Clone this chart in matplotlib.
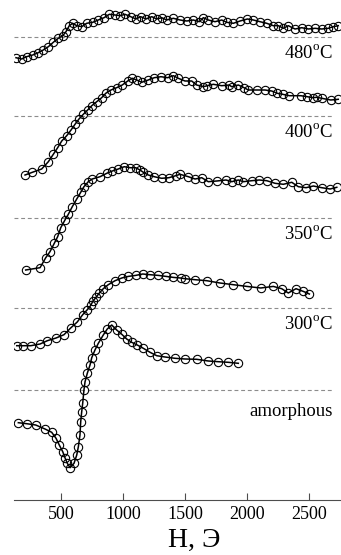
import matplotlib
matplotlib.use("Agg")
import matplotlib.pyplot as plt

plt.rcParams['font.family'] = ['Liberation Serif', 'DejaVu Serif']
plt.rcParams['mathtext.fontset'] = 'custom'
plt.rcParams['mathtext.rm'] = 'Liberation Serif'

# field H (Oe) and signal (a.u.) for each sample
h_480 = [137, 183, 223, 272, 317, 357, 398, 438, 478, 514, 540, 567, 594, 627, 667, 707,
         756, 801, 847, 890, 936, 976, 1016, 1062, 1105, 1143, 1186, 1232, 1272, 1312,
         1353, 1406, 1460, 1514, 1567, 1615, 1648, 1688, 1742, 1796, 1836, 1890, 1944,
         2003, 2051, 2105, 2159, 2212, 2253, 2293, 2333, 2387, 2441, 2495, 2549, 2603,
         2656, 2696, 2736]
s_480 = [-20.7, -22, -19.7, -18, -15.7, -13, -9.7, -5.3, -1.3, 1.3, 5.3, 11.3, 13.7, 11.3,
         10.3, 13.7, 14.7, 17, 19.3, 22.7, 22, 21.3, 22.7, 20.3, 18, 20.3, 18, 20.3, 18,
         19.3, 17, 18.7, 17, 16, 17, 15.3, 19.3, 17, 15.3, 17, 14.7, 13.7, 16, 18, 17,
         15.3, 13.7, 11.3, 11.3, 8.7, 11.3, 8, 9.3, 8, 8.7, 8, 8.7, 10.3, 11.3]

h_400 = [210, 269, 344, 398, 438, 473, 506, 546, 581, 613, 645, 680, 715, 748, 788, 828,
         861, 903, 949, 994, 1038, 1075, 1111, 1151, 1204, 1252, 1306, 1361, 1406, 1446,
         1500, 1554, 1594, 1648, 1680, 1728, 1796, 1857, 1876, 1930, 1976, 2011, 2083,
         2145, 2199, 2245, 2288, 2341, 2433, 2486, 2530, 2562, 2603, 2675, 2736]
s_400 = [-59, -56.3, -53, -45.7, -38.3, -31.7, -25, -19.7, -14, -8.3, -3, 1.7, 6, 10.3,
         14.3, 18.3, 22.7, 26, 28.3, 31, 35, 37.7, 36, 33.7, 36, 38.3, 39.3, 38.3, 40.3,
         37.7, 35, 35, 31, 29.3, 30.3, 31.7, 30.3, 31, 29.3, 31, 28.3, 26, 26, 26, 25,
         22.7, 21.7, 20.3, 20.3, 19.3, 18.3, 18.7, 17.7, 16, 16.7]

h_350 = [215, 331, 377, 411, 446, 473, 498, 532, 559, 591, 627, 659, 685, 720, 752, 815,
         869, 914, 962, 1010, 1056, 1102, 1137, 1164, 1204, 1252, 1312, 1371, 1425, 1460,
         1527, 1581, 1635, 1688, 1756, 1831, 1877, 1930, 1970, 2038, 2099, 2159, 2226,
         2293, 2361, 2414, 2476, 2535, 2603, 2670, 2724]
s_350 = [-52, -49.7, -39.7, -33.7, -25.3, -18.7, -9.7, -2, 3.7, 11.3, 19, 25.7, 31.3, 36.3,
         39, 41.3, 44.7, 47, 49, 51.3, 50.3, 50.3, 48, 45.7, 43, 41.3, 39.7, 40.3, 42.3,
         43.7, 41.3, 39, 40.3, 36.3, 37, 38, 36.3, 38, 36.3, 37.3, 38, 37.3, 34.7, 33.7,
         35.7, 31.3, 30.3, 32, 30.3, 29, 30.7]

h_300 = [143, 196, 256, 331, 390, 460, 524, 578, 631, 675, 712, 740, 756, 782, 809, 841,
         881, 936, 990, 1043, 1102, 1159, 1218, 1285, 1347, 1406, 1465, 1500, 1581, 1675,
         1782, 1890, 1998, 2111, 2212, 2280, 2333, 2395, 2454, 2503]
s_300 = [-37.7, -37.7, -37.7, -36, -32.7, -30, -26.7, -20, -14, -6.7, -1.7, 2.6, 6.6, 10.6,
         15, 19.3, 23.3, 27.3, 30, 31.6, 32.6, 34, 33.3, 32.6, 31.6, 30.6, 30, 29.3, 28.3,
         27.3, 25, 23.3, 21.6, 20, 21.6, 19.3, 15, 19.3, 16.6, 14]

h_am = [156, 223, 296, 371, 425, 460, 486, 514, 532, 551, 573, 605, 627, 640, 653, 659, 667,
        675, 685, 694, 712, 734, 748, 774, 801, 841, 873, 909, 949, 990, 1030, 1070, 1115,
        1164, 1218, 1272, 1339, 1419, 1500, 1594, 1688, 1769, 1849, 1930]
s_am = [-32.7, -33.7, -35, -39, -42.3, -48.3, -55, -61.7, -67.7, -73.3, -77.7, -73.3, -65,
        -56.7, -45, -31.7, -21.7, -13.3, 0, 8.3, 16.7, 25, 32.3, 40, 46.7, 55, 61, 65, 60,
        55.7, 51, 47.7, 45, 41.7, 37.7, 34.3, 33, 31.7, 31, 30.7, 29, 28.3, 27.7, 26.7]

labels = [r'480$^{\mathrm{o}}$C', r'400$^{\mathrm{o}}$C', r'350$^{\mathrm{o}}$C',
          r'300$^{\mathrm{o}}$C', 'amorphous']
fields = [h_480, h_400, h_350, h_300, h_am]
signals = [s_480, s_400, s_350, s_300, s_am]
offsets = [463, 384, 282, 192, 110]   # vertical shift of each curve
label_drop = [21, 21, 21, 21, 26]

fig = plt.figure(figsize=(3.41, 5.55), dpi=100)
ax = fig.add_axes([14 / 341, 55 / 555, 327 / 341, 500 / 555])

for h, s, off, lab, drop in zip(fields, signals, offsets, labels, label_drop):
    ax.plot([121, 2694], [off, off], ls=(0, (3.5, 2.5)), color='0.55', lw=0.8)
    ax.plot(h, [v + off for v in s], color='black', lw=1.1, marker='o', ms=6,
            mfc='none', mec='black', mew=0.8)
    ax.text(2694, off - drop, lab, ha='right', va='baseline', fontsize=13.5)

ax.set_xlim(121, 2758)
ax.set_ylim(0, 500)
for side in ['top', 'right', 'left']:
    ax.spines[side].set_visible(False)
ax.spines['bottom'].set_color('0.3')
ax.set_yticks([])
ax.set_xticks([500, 1000, 1500, 2000, 2500])
ax.tick_params(axis='x', direction='in', length=5, width=0.8, color='0.3',
               labelsize=13, pad=4)
ax.set_xlabel('H, Э', fontsize=20, labelpad=0)
ax.xaxis.set_label_coords(0.55, -0.055)

fig.savefig('out.png', dpi=100)
